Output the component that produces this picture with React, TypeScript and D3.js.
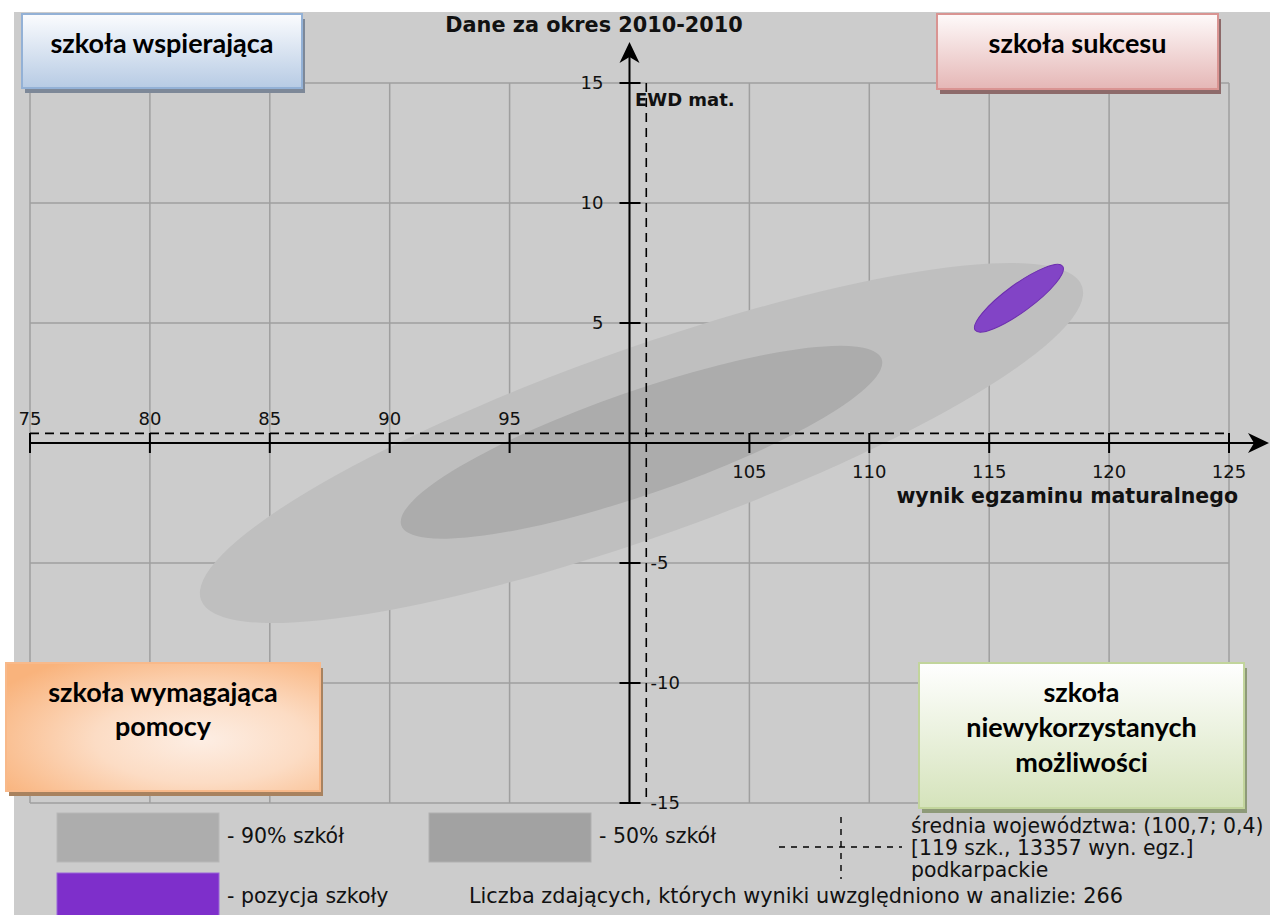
import { scaleLinear } from 'd3';

const xTicks = [75, 80, 85, 90, 95, 100, 105, 110, 115, 120, 125];
const yTicks = [-15, -10, -5, 0, 5, 10, 15];

const ellipseNames = ['90% szkół', '50% szkół', 'pozycja szkoły'];
const ellipseCx = [100.5, 100.5, 116.24];
const ellipseCy = [0.0, 0.03, 6.03];
const ellipseRx = [19.5, 10.6, 2.26];
const ellipseRy = [3.9, 2.15, 0.57];
const ellipseAngle = [19.6, 19.1, 36.2];

const meanX = 100.7;
const meanY = 0.4;
const schoolsCount = 119;
const resultsCount = 13357;
const studentsCount = 266;
const province = 'podkarpackie';
const periodLabel = 'Dane za okres 2010-2010';

const quadrantLabels = [
  ['szkoła wspierająca'],
  ['szkoła sukcesu'],
  ['szkoła wymagająca', 'pomocy'],
  ['szkoła', 'niewykorzystanych', 'możliwości'],
];

const W = 1270;
const H = 915;
const CHART_FONT = "'DejaVu Sans', sans-serif";
const BOX_FONT = "Lato, 'Open Sans', sans-serif";
const fmt = (v: number) => String(v).replace('.', ',');

function Box({ x, y, w, h, lines, fill, border, shadow, lineGap, firstBaseline }: any) {
  return (
    <g>
      <rect x={x + 3} y={y + 5} width={w} height={h} fill={shadow} />
      <rect x={x} y={y} width={w} height={h} fill={fill} stroke={border} strokeWidth={2} />
      {lines.map((t: string, i: number) => (
        <text
          key={i}
          x={x + w / 2}
          y={y + firstBaseline + i * lineGap}
          textAnchor="middle"
          fontFamily={BOX_FONT}
          fontWeight={700}
          fontSize={27}
          fill="#000"
        >
          {t}
        </text>
      ))}
    </g>
  );
}

export default function App() {
  const x = scaleLinear().domain([75, 125]).range([30, 1229]);
  const y = scaleLinear().domain([-15, 15]).range([803, 83]);
  const x0 = x(100);
  const y0 = y(0);
  const mx = x(meanX);
  const my = y(meanY);

  const ellipseFill = ['#bfbfbf', '#acacac', '#8244c6'];
  const swatchFill = ['#adadad', '#a2a2a2', '#7e2fcb'];

  return (
    <svg
      width={W}
      height={H}
      style={{ position: 'absolute', left: 0, top: 0 }}
      fontFamily={CHART_FONT}
    >
      <defs>
        <linearGradient id="gBlue" x1="0" y1="0" x2="0" y2="1">
          <stop offset="0" stopColor="#fbfcfe" />
          <stop offset="1" stopColor="#b7cbe4" />
        </linearGradient>
        <linearGradient id="gPink" x1="0" y1="0" x2="0" y2="1">
          <stop offset="0" stopColor="#fefafa" />
          <stop offset="1" stopColor="#e5b7b6" />
        </linearGradient>
        <radialGradient id="gOrange" cx="0.62" cy="0.6" r="0.75">
          <stop offset="0" stopColor="#fdeee4" />
          <stop offset="0.45" stopColor="#fcdcc4" />
          <stop offset="1" stopColor="#f9b37c" />
        </radialGradient>
        <linearGradient id="gGreen" x1="0" y1="0" x2="0" y2="1">
          <stop offset="0" stopColor="#ffffff" />
          <stop offset="1" stopColor="#d5e3bb" />
        </linearGradient>
      </defs>

      <rect x={14} y={12} width={W - 14} height={H - 12} fill="#cccccc" />

      {/* grid */}
      {xTicks.map(t => (
        <line key={'gx' + t} x1={x(t)} x2={x(t)} y1={y(15)} y2={y(-15)} stroke="#9f9f9f" strokeWidth={1.5} />
      ))}
      {yTicks.map(t => (
        <line key={'gy' + t} x1={x(75)} x2={x(125)} y1={y(t)} y2={y(t)} stroke="#9f9f9f" strokeWidth={1.5} />
      ))}

      {/* ellipses */}
      {ellipseNames.map((n, i) => {
        const cx = x(ellipseCx[i]);
        const cy = y(ellipseCy[i]);
        return (
          <ellipse
            key={n}
            cx={cx}
            cy={cy}
            rx={x(ellipseCx[i] + ellipseRx[i]) - cx}
            ry={cy - y(ellipseCy[i] + ellipseRy[i])}
            transform={`rotate(${-ellipseAngle[i]} ${cx} ${cy})`}
            fill={ellipseFill[i]}
            stroke={i === 2 ? '#6c2eae' : 'none'}
            strokeWidth={1}
          />
        );
      })}

      {/* mean cross */}
      <line x1={x(75)} x2={x(125)} y1={my} y2={my} stroke="#000" strokeWidth={1.6} strokeDasharray="9,6" />
      <line x1={mx} x2={mx} y1={y(15)} y2={y(-15)} stroke="#000" strokeWidth={1.6} strokeDasharray="9,6" />

      {/* axes */}
      <line x1={x(75)} x2={W - 8} y1={y0} y2={y0} stroke="#000" strokeWidth={2} />
      <path d={`M${W - 1},${y0} L${W - 22},${y0 - 10} L${W - 16},${y0} L${W - 22},${y0 + 10} Z`} fill="#000" />
      <line x1={x0} x2={x0} y1={y(-15)} y2={50} stroke="#000" strokeWidth={2} />
      <path d={`M${x0},42 L${x0 - 10},63 L${x0},57 L${x0 + 10},63 Z`} fill="#000" />

      {xTicks.map(t => (
        <g key={'tx' + t}>
          {t !== 100 && <line x1={x(t)} x2={x(t)} y1={y0 - 10} y2={y0 + 10} stroke="#000" strokeWidth={2} />}
          {t < 100 && (
            <text x={x(t)} y={y0 - 18} textAnchor="middle" fontSize={18} fill="#111">
              {t}
            </text>
          )}
          {t > 100 && (
            <text x={x(t)} y={y0 + 35} textAnchor="middle" fontSize={18} fill="#111">
              {t}
            </text>
          )}
        </g>
      ))}
      {yTicks.map(t => (
        <g key={'ty' + t}>
          {t !== 0 && <line x1={x0 - 10} x2={x0 + 11} y1={y(t)} y2={y(t)} stroke="#000" strokeWidth={2} />}
          {t > 0 && (
            <text x={x0 - 26} y={y(t)} dy="0.35em" textAnchor="end" fontSize={18} fill="#111">
              {t}
            </text>
          )}
          {t < 0 && (
            <text x={x0 + 21} y={y(t)} dy="0.35em" textAnchor="start" fontSize={18} fill="#111">
              {t}
            </text>
          )}
        </g>
      ))}

      <text x={594} y={32} textAnchor="middle" fontSize={20.8} fontWeight="bold" fill="#111">
        {periodLabel}
      </text>
      <text x={635} y={106} fontSize={18} fontWeight="bold" fill="#111">
        EWD mat.
      </text>
      <text x={1238} y={503} textAnchor="end" fontSize={20.5} fontWeight="bold" fill="#111">
        wynik egzaminu maturalnego
      </text>

      {/* legend */}
      <rect x={57} y={813} width={162} height={49} fill={swatchFill[0]} stroke="#b8b8b8" />
      <text x={227} y={843} fontSize={20.5} fill="#111">- {ellipseNames[0]}</text>
      <rect x={429} y={813} width={162} height={49} fill={swatchFill[1]} stroke="#b0b0b0" />
      <text x={599} y={843} fontSize={20.5} fill="#111">- {ellipseNames[1]}</text>
      <rect x={57} y={873} width={162} height={50} fill={swatchFill[2]} stroke="#9a66d8" />
      <text x={227} y={903} fontSize={20.5} fill="#111">- {ellipseNames[2]}</text>
      <text x={469} y={903} fontSize={20.8} fill="#111">
        Liczba zdających, których wyniki uwzględniono w analizie: {studentsCount}
      </text>

      <line x1={779} x2={902} y1={847} y2={847} stroke="#000" strokeWidth={1.4} strokeDasharray="6,6" />
      <line x1={841} x2={841} y1={817} y2={879} stroke="#000" strokeWidth={1.4} strokeDasharray="6,6" />
      <text x={911} y={833} fontSize={20.4} fill="#111">
        średnia województwa: ({fmt(meanX)}; {fmt(meanY)})
      </text>
      <text x={911} y={855} fontSize={20.4} fill="#111">
        [{schoolsCount} szk., {resultsCount} wyn. egz.]
      </text>
      <text x={911} y={877} fontSize={20.4} fill="#111">
        {province}
      </text>

      {/* quadrant boxes */}
      <Box x={22} y={14} w={280} h={74} lines={quadrantLabels[0]} fill="url(#gBlue)" border="#93b1d6" shadow="#7d8898" lineGap={34} firstBaseline={39} />
      <Box x={937} y={14} w={281} h={75} lines={quadrantLabels[1]} fill="url(#gPink)" border="#d99492" shadow="#8d6a6a" lineGap={34} firstBaseline={39} />
      <Box x={6} y={663} w={314} h={128} lines={quadrantLabels[2]} fill="url(#gOrange)" border="#f8b98a" shadow="#a8825f" lineGap={34} firstBaseline={39} />
      <Box x={919} y={663} w={325} h={145} lines={quadrantLabels[3]} fill="url(#gGreen)" border="#c2d59c" shadow="#8e9a78" lineGap={35} firstBaseline={39} />
    </svg>
  );
}
